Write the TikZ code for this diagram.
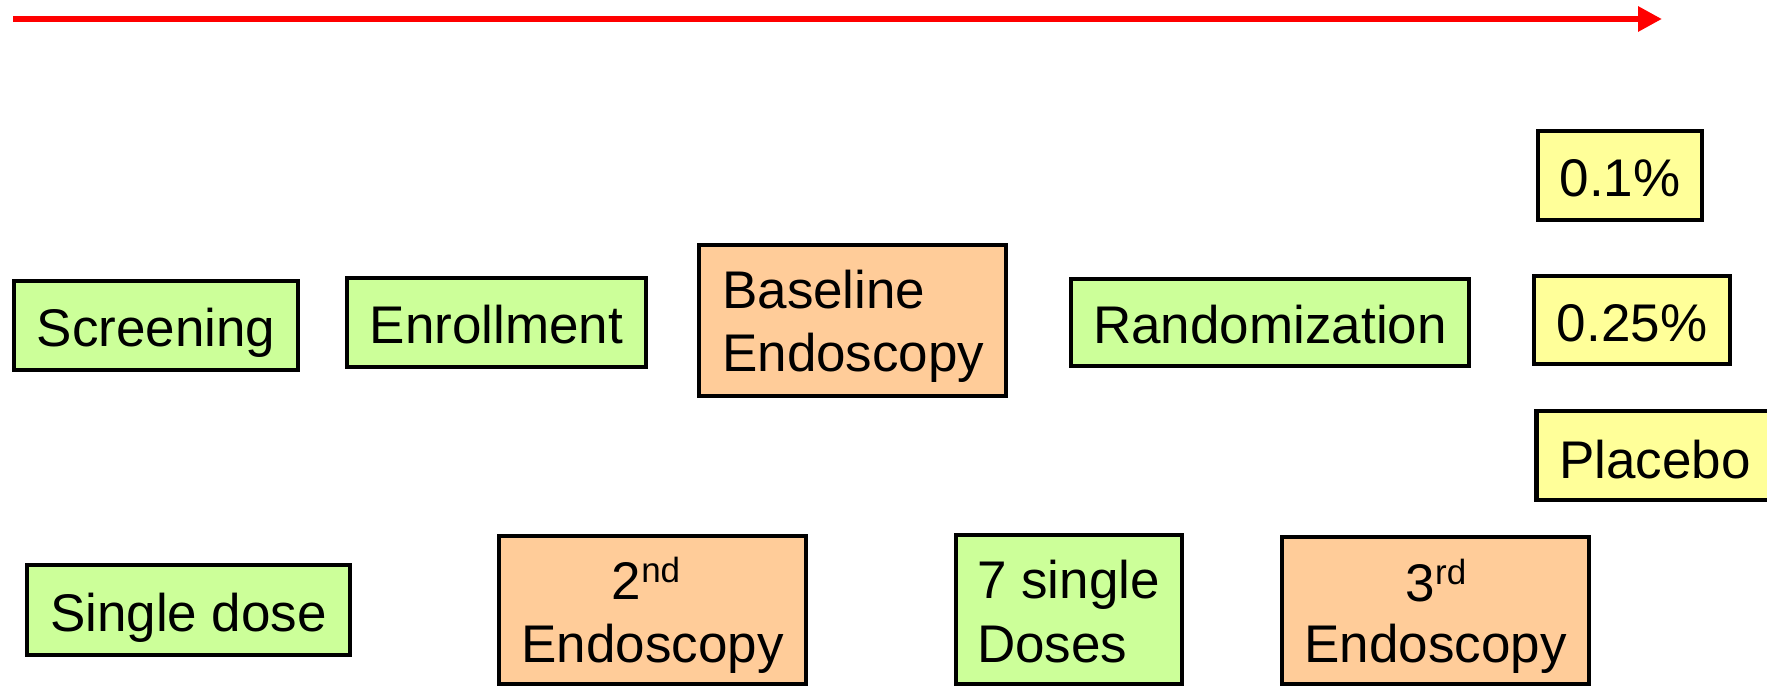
\documentclass[tikz,border=0pt]{standalone}
\usepackage{fontspec}
\setmainfont{Liberation Sans}
\usetikzlibrary{arrows.meta}
\definecolor{boxgreen}{HTML}{CCFF99}
\definecolor{boxorange}{HTML}{FFCC99}
\definecolor{boxyellow}{HTML}{FFFF99}
\newcommand{\supr}[1]{\raisebox{17pt}{\fontsize{35}{35}\selectfont #1}}
\begin{document}
\begin{tikzpicture}[x=1pt,y=-1pt,
  box/.style={draw=black, line width=4.5pt, inner sep=0pt,
    font=\fontsize{53}{63}\selectfont, text height=42pt, text depth=0pt},
  gbox/.style={box, fill=boxgreen},
  obox/.style={box, fill=boxorange},
  ybox/.style={box, fill=boxyellow},
  txt/.style={inner sep=0pt, font=\fontsize{53}{63}\selectfont}
]
\useasboundingbox (0,0) rectangle (1767,688);
% timeline arrow
\coordinate (ts) at (13,19);
\coordinate (te) at (1662,19);
\draw[red, line width=6.5pt, -{Triangle[length=24pt,width=24pt]}] (ts) -- (te);

% top row
\node[gbox, minimum width=284pt, minimum height=89pt] (scr) at (156,325.5) {Screening};
\node[gbox, minimum width=299pt, minimum height=89pt] (enr) at (496.5,322.5) {Enrollment};
\node[obox, minimum width=307pt, minimum height=151pt] (bas) at (852.5,320.5) {};
\node[txt, anchor=base west] (bast1) at (722,308) {Baseline};
\node[txt, anchor=base west] (bast2) at (722,371) {Endoscopy};
\node[gbox, minimum width=398pt, minimum height=87pt] (ran) at (1270,322.5) {Randomization};

% doses
\node[ybox, minimum width=164pt, minimum height=89pt] (d1) at (1620,175.5) {0.1\%};
\node[ybox, minimum width=196pt, minimum height=88pt] (d2) at (1632,320) {0.25\%};
\node[ybox, minimum width=260pt, minimum height=89pt, anchor=west] (pl) at (1534,455.5) {};
\node[txt, anchor=base west] (plt) at (1559,478) {Placebo};

% bottom row
\node[gbox, minimum width=323pt, minimum height=90pt] (sd) at (188.5,610) {Single dose};
\node[obox, minimum width=307pt, minimum height=148pt] (e2) at (652.5,610) {};
\node[txt, anchor=base] (e2t1) at (646,599) {2\supr{nd}};
\node[txt, anchor=base] (e2t2) at (652.5,662) {Endoscopy};
\node[gbox, minimum width=226pt, minimum height=149pt] (sev) at (1069,609.5) {};
\node[txt, anchor=base west] (sevt1) at (977,598) {7 single};
\node[txt, anchor=base west] (sevt2) at (977,662) {Doses};
\node[obox, minimum width=307pt, minimum height=147pt] (e3) at (1435.5,610.5) {};
\node[txt, anchor=base] (e3t1) at (1436,601) {3\supr{rd}};
\node[txt, anchor=base] (e3t2) at (1435.5,662) {Endoscopy};
\end{tikzpicture}
\end{document}
